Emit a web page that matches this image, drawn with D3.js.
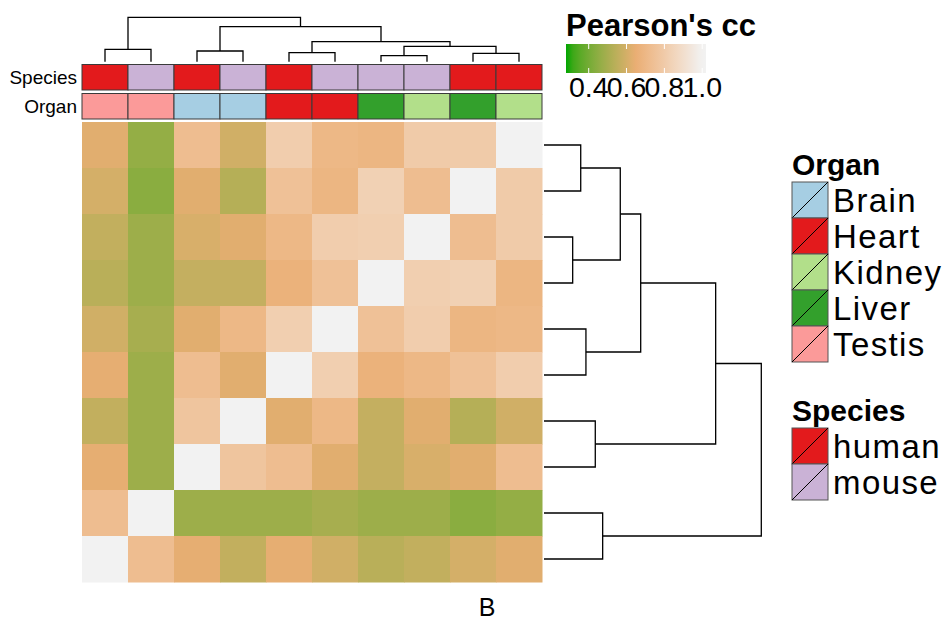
<!DOCTYPE html>
<html>
<head>
<meta charset="utf-8">
<script src="https://cdn.jsdelivr.net/npm/d3@7"></script>
<style>
  body { margin: 0; background: #fff; }
  text { font-family: "Liberation Sans", Arial, Helvetica, sans-serif; fill: #000; }
</style>
</head>
<body>
<div id="wrapper"></div>
<script>
// samples in column order (rows are drawn in reverse order)
const species = ["human", "mouse", "human", "mouse", "human", "mouse", "mouse", "mouse", "human", "human"]
const organs = ["Testis", "Testis", "Brain", "Brain", "Heart", "Heart", "Liver", "Kidney", "Liver", "Kidney"]
const rowOrder = [9, 8, 7, 6, 5, 4, 3, 2, 1, 0]

// pearson correlation between samples (symmetric)
const corr = [
  [1.00, 0.73, 0.64, 0.56, 0.64, 0.59, 0.54, 0.56, 0.60, 0.63],
  [0.73, 1.00, 0.48, 0.48, 0.48, 0.50, 0.48, 0.48, 0.44, 0.46],
  [0.64, 0.48, 1.00, 0.77, 0.73, 0.63, 0.565, 0.61, 0.63, 0.73],
  [0.56, 0.48, 0.77, 1.00, 0.63, 0.70, 0.565, 0.63, 0.53, 0.59],
  [0.64, 0.48, 0.73, 0.63, 1.00, 0.82, 0.67, 0.70, 0.75, 0.81],
  [0.59, 0.50, 0.63, 0.70, 0.82, 1.00, 0.75, 0.81, 0.69, 0.70],
  [0.54, 0.48, 0.565, 0.565, 0.67, 0.75, 1.00, 0.82, 0.83, 0.69],
  [0.56, 0.48, 0.61, 0.63, 0.70, 0.81, 0.82, 1.00, 0.73, 0.80],
  [0.60, 0.44, 0.63, 0.53, 0.75, 0.69, 0.83, 0.73, 1.00, 0.80],
  [0.63, 0.46, 0.73, 0.59, 0.81, 0.70, 0.69, 0.80, 0.80, 1.00]
]

// hclust style merges: negative = leaf (1-based position), positive = earlier merge
const colMerge = [[-1, -2], [-3, -4], [-5, -6], [-7, -8], [-9, -10], [4, 5], [3, 6], [2, 7], [1, 8]]
const colHeights = [0.279, 0.241, 0.203, 0.135, 0.189, 0.347, 0.450, 0.788, 1.0]
const rowMerge = [[-1, -2], [-3, -4], [-5, -6], [-7, -8], [-9, -10], [1, 2], [6, 3], [7, 4], [8, 5]]
const rowHeights = [0.169, 0.132, 0.193, 0.236, 0.270, 0.351, 0.445, 0.790, 1.0]

const speciesLevels = ["human", "mouse"]
const speciesColors = ["#E31A1C", "#CAB2D6"]
const organLevels = ["Brain", "Heart", "Kidney", "Liver", "Testis"]
const organColors = ["#A6CEE3", "#E31A1C", "#B2DF8A", "#33A02C", "#FB9A99"]

const ccBreaks = [0.28, 0.65, 1.0]
const ccColors = ["#00A600", "#EAAE74", "#F2F2F2"]
const ccTicks = [0.4, 0.6, 0.8, 1.0]

// CHART DIMENSIONS
const dimensions = {
  width: 948,
  height: 620,
  heat: { left: 82, right: 542, top: 122, bottom: 582 },
}

const svg = d3.select("#wrapper")
  .append("svg")
  .attr("width", dimensions.width)
  .attr("height", dimensions.height)

// SCALES
const xScale = d3.scaleBand().domain(d3.range(10)).range([dimensions.heat.left, dimensions.heat.right])
const yScale = d3.scaleBand().domain(d3.range(10)).range([dimensions.heat.top, dimensions.heat.bottom])
const colorScale = d3.scaleLinear().domain(ccBreaks).range(ccColors).interpolate(d3.interpolateLab).clamp(true)
const speciesScale = d3.scaleOrdinal().domain(speciesLevels).range(speciesColors)
const organScale = d3.scaleOrdinal().domain(organLevels).range(organColors)

// HEATMAP
const cells = []
rowOrder.forEach((s, r) => {
  d3.range(10).forEach(c => cells.push({ r, c, v: corr[s][c] }))
})
svg.append("g").selectAll("rect")
  .data(cells)
  .join("rect")
  .attr("x", d => xScale(d.c))
  .attr("y", d => yScale(d.r))
  .attr("width", xScale.bandwidth() + 0.5)
  .attr("height", yScale.bandwidth() + 0.5)
  .attr("fill", d => colorScale(d.v))

// ANNOTATIONS
const annoRows = [
  { name: "Species", values: species, scale: speciesScale, y0: 64.5, y1: 90 },
  { name: "Organ", values: organs, scale: organScale, y0: 93.5, y1: 119 },
]
annoRows.forEach(a => {
  const g = svg.append("g")
  g.selectAll("rect")
    .data(a.values)
    .join("rect")
    .attr("x", (d, i) => xScale(i))
    .attr("y", a.y0)
    .attr("width", xScale.bandwidth())
    .attr("height", a.y1 - a.y0)
    .attr("fill", d => a.scale(d))
    .attr("stroke", "#3a3a3a")
    .attr("stroke-width", 1)
  g.append("text")
    .attr("x", 77)
    .attr("y", (a.y0 + a.y1) / 2 + 6.8)
    .attr("text-anchor", "end")
    .style("font-size", "19px")
    .text(a.name)
})

// DENDROGRAMS
function buildTree(merge, heights, leafPos) {
  const nodes = []
  const get = k => k < 0 ? { pos: leafPos(-k - 1), h: 0 } : nodes[k - 1]
  merge.forEach((m, i) => {
    const a = get(m[0]), b = get(m[1])
    nodes.push({ pos: (a.pos + b.pos) / 2, h: heights[i], a, b })
  })
  return nodes
}

const colTree = buildTree(colMerge, colHeights, i => xScale(i) + xScale.bandwidth() / 2)
const colH = d3.scaleLinear().domain([0, 1]).range([61.7, 17.3])
svg.append("g").selectAll("path")
  .data(colTree)
  .join("path")
  .attr("d", n => `M${n.a.pos},${colH(n.a.h)}V${colH(n.h)}H${n.b.pos}V${colH(n.b.h)}`)
  .attr("fill", "none")
  .attr("stroke", "#000")
  .attr("stroke-width", 1.3)

const rowTree = buildTree(rowMerge, rowHeights, i => yScale(i) + yScale.bandwidth() / 2)
const rowH = d3.scaleLinear().domain([0, 1]).range([544, 761.3])
svg.append("g").selectAll("path")
  .data(rowTree)
  .join("path")
  .attr("d", n => `M${rowH(n.a.h)},${n.a.pos}H${rowH(n.h)}V${n.b.pos}H${rowH(n.b.h)}`)
  .attr("fill", "none")
  .attr("stroke", "#000")
  .attr("stroke-width", 1.3)

// COLOR LEGEND
const legX = d3.scaleLinear().domain([0.28, 1.02]).range([566, 706])
const grad = svg.append("defs").append("linearGradient")
  .attr("id", "ccgrad")
  .attr("x1", "0%").attr("x2", "100%")
grad.selectAll("stop")
  .data(d3.range(0, 1.0001, 0.05))
  .join("stop")
  .attr("offset", t => `${t * 100}%`)
  .attr("stop-color", t => colorScale(0.28 + t * 0.74))

svg.append("text")
  .attr("x", 566)
  .attr("y", 36)
  .style("font-size", "31px")
  .style("font-weight", "bold")
  .text("Pearson's cc")

svg.append("rect")
  .attr("x", legX(0.28))
  .attr("y", 44)
  .attr("width", legX(1.02) - legX(0.28))
  .attr("height", 29)
  .attr("fill", "url(#ccgrad)")

const tickG = svg.append("g").selectAll("g")
  .data(ccTicks)
  .join("g")
tickG.append("line")
  .attr("x1", d => legX(d)).attr("x2", d => legX(d))
  .attr("y1", 44).attr("y2", 49)
  .attr("stroke", "#fff").attr("stroke-width", 1)
tickG.append("line")
  .attr("x1", d => legX(d)).attr("x2", d => legX(d))
  .attr("y1", 68).attr("y2", 73)
  .attr("stroke", "#fff").attr("stroke-width", 1)
tickG.append("text")
  .attr("x", d => legX(d))
  .attr("y", 97)
  .attr("text-anchor", "middle")
  .style("font-size", "28.5px")
  .text(d => d.toFixed(1))

// DISCRETE LEGENDS
function discreteLegend(title, levels, scale, titleY, boxY) {
  const g = svg.append("g")
  g.append("text")
    .attr("x", 792)
    .attr("y", titleY)
    .style("font-size", "30px")
    .style("font-weight", "bold")
    .text(title)
  const item = g.selectAll("g")
    .data(levels)
    .join("g")
    .attr("transform", (d, i) => `translate(792, ${boxY + i * 36})`)
  item.append("rect")
    .attr("width", 36).attr("height", 36)
    .attr("fill", d => scale(d))
    .attr("stroke", "#555").attr("stroke-width", 1)
  item.append("line")
    .attr("x1", 0).attr("y1", 36).attr("x2", 36).attr("y2", 0)
    .attr("stroke", "#000").attr("stroke-width", 1)
  item.append("text")
    .attr("x", 41)
    .attr("y", 18 + 11.8)
    .style("font-size", "33px")
    .style("letter-spacing", "1.4px")
    .text(d => d)
}
discreteLegend("Organ", organLevels, organScale, 175, 182)
discreteLegend("Species", speciesLevels, speciesScale, 421, 428)

svg.append("text")
  .attr("x", 487)
  .attr("y", 616)
  .attr("text-anchor", "middle")
  .style("font-size", "25px")
  .text("B")
</script>
</body>
</html>
